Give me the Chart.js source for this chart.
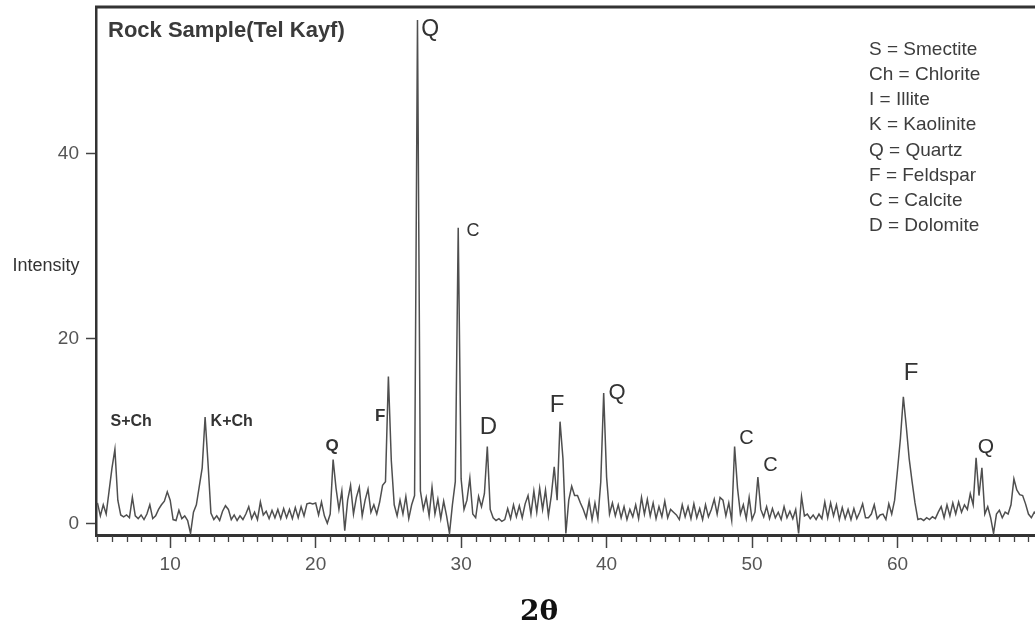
<!DOCTYPE html>
<html>
<head>
<meta charset="utf-8">
<script src="https://cdn.jsdelivr.net/npm/chart.js@4/dist/chart.umd.min.js"></script>
<style>
  html, body { margin: 0; padding: 0; background: #fff; }
  #wrap { width: 1035px; height: 627px; }
</style>
</head>
<body>
<div id="wrap"><canvas id="xrdChart" width="1035" height="627"></canvas></div>
<script>
// scan grid (degrees 2-theta)
const scanStart = 5.0;
const scanStep = 0.2;

// intensity, five samples per degree
const intensity = [
  2.2, 0.8, 2.0, 1.0, 3.5,   // 5
  6.0, 8.0, 2.5, 0.9, 0.7,   // 6
  0.9, 0.6, 2.8, 0.8, 0.5,   // 7
  0.9, 0.4, 1.0, 2.0, 0.5,   // 8
  0.8, 1.5, 2.0, 2.4, 3.4,   // 9
  2.5, 0.4, 0.3, 1.4, 0.5,   // 10
  0.8, 0.3, -1.1, 1.2, 2.0,  // 11
  4.0, 6.0, 11.5, 6.5, 1.1,  // 12
  0.4, 0.8, 0.3, 1.3, 1.9,   // 13
  1.5, 0.4, 0.9, 0.3, 0.8,   // 14
  0.4, 1.0, 1.8, 0.5, 1.2,   // 15
  0.4, 2.3, 0.9, 1.3, 0.5,   // 16
  1.4, 0.6, 1.5, 0.5, 1.6,   // 17
  0.6, 1.5, 0.5, 1.7, 0.6,   // 18
  1.8, 0.8, 2.1, 2.2, 2.1,   // 19
  2.2, 0.9, 2.3, 0.8, 0.0,   // 20
  1.0, 6.9, 3.8, 1.5, 3.5,   // 21
  -0.8, 2.5, 4.1, 1.0, 2.8,  // 22
  3.9, 0.8, 2.5, 3.7, 1.2,   // 23
  2.0, 1.0, 2.3, 4.1, 4.5,   // 24
  15.9, 6.8, 2.0, 0.8, 2.5,  // 25
  1.0, 2.9, 0.5, 2.0, 3.0,   // 26
  54.5, 3.5, 1.5, 2.8, 0.8,  // 27
  3.9, 1.0, 2.6, 0.5, 2.4,   // 28
  0.8, -1.1, 2.0, 4.5, 32.0, // 29
  4.8, 1.5, 2.5, 4.9, 1.0,   // 30
  0.6, 2.9, 1.8, 3.2, 8.3,   // 31
  1.5, 0.6, 0.3, 0.5, 0.2,   // 32
  0.4, 1.6, 0.5, 2.0, 0.7,   // 33
  1.9, 0.6, 2.1, 3.0, 1.0,   // 34
  3.5, 1.2, 3.8, 1.5, 3.6,   // 35
  0.8, 3.0, 6.1, 2.5, 11.0,  // 36
  7.0, -1.1, 2.5, 4.0, 3.0,  // 37
  3.0, 2.2, 1.5, 0.6, 2.4,   // 38
  0.4, 2.2, 0.5, 4.5, 14.1,  // 39
  5.0, 1.0, 2.2, 0.8, 2.0,   // 40
  0.6, 1.8, 0.4, 1.5, 0.7,   // 41
  2.0, 0.5, 2.8, 1.0, 2.6,   // 42
  0.8, 2.2, 0.5, 1.8, 0.7,   // 43
  2.4, 0.6, 1.5, 1.2, 0.9,   // 44
  0.4, 2.0, 0.7, 1.8, 0.5,   // 45
  2.1, 0.6, 1.6, 0.4, 2.0,   // 46
  0.7, 1.5, 2.6, 1.0, 2.8,   // 47
  2.5, 0.8, 2.2, 0.3, 8.3,   // 48
  3.8, 1.0, 2.0, 0.5, 2.8,   // 49
  0.4, 1.2, 5.0, 1.5, 0.7,   // 50
  1.8, 0.5, 1.6, 0.6, 1.2,   // 51
  0.4, 1.8, 0.6, 1.3, 0.5,   // 52
  1.5, -1.1, 2.9, 0.8, 1.0,  // 53
  0.5, 0.9, 0.4, 1.0, 0.5,   // 54
  2.3, 0.6, 2.2, 0.8, 2.0,   // 55
  0.4, 1.7, 0.5, 1.5, 0.4,   // 56
  1.6, 0.5, 1.2, 2.1, 0.6,   // 57
  0.6, 1.0, 2.0, 0.5, 0.9,   // 58
  1.0, 0.4, 2.1, 1.0, 2.5,   // 59
  5.8, 9.2, 13.7, 10.5, 7.0, // 60
  4.5, 2.2, 0.4, 0.5, 0.3,   // 61
  0.6, 0.4, 0.7, 0.5, 1.2,   // 62
  1.8, 0.6, 2.0, 0.8, 2.2,   // 63
  1.0, 2.3, 1.2, 2.0, 1.5,   // 64
  3.2, 2.0, 7.1, 3.0, 6.0,   // 65
  1.0, 1.8, 0.6, -1.1, 1.0,  // 66
  1.4, 0.6, 1.2, 1.0, 2.0,   // 67
  4.8, 3.6, 3.1, 3.0, 2.1,   // 68
  1.0, 0.6, 1.2, 0.8, 1.0    // 69
];

const xTickValues = [10, 20, 30, 40, 50, 60];
const yTickValues = [0, 20, 40];

const mineralCode = ["S", "Ch", "I", "K", "Q", "F", "C", "D"];
const mineralName = ["Smectite", "Chlorite", "Illite", "Kaolinite", "Quartz", "Feldspar", "Calcite", "Dolomite"];

const peakLabel = ["S+Ch", "K+Ch", "Q", "F", "Q", "C", "D", "F", "Q", "C", "C", "F", "Q"];
const peakTheta = [7.32, 14.23, 21.13, 24.43, 27.87, 30.82, 31.88, 36.60, 40.72, 49.62, 51.27, 60.93, 66.08];
const peakHeight = [11.0, 11.0, 8.3, 11.55, 53.45, 31.6, 10.4, 12.8, 14.1, 9.2, 6.3, 16.2, 8.2];

const chartTitle = "Rock Sample(Tel Kayf)";
const yTitle = "Intensity";
const xTitle = "2θ";

// styling for the peak labels
const peakLabelSize = [16, 16, 17, 17, 23, 18, 24, 24, 22, 20, 20, 24, 21];
const peakLabelBold = [true, true, true, true, false, false, false, false, false, false, false, false, false];

const points = intensity.map((v, i) => ({ x: scanStart + i * scanStep, y: v }));

const decorPlugin = {
  id: "decor",
  beforeDraw(chart) {
    const ctx = chart.ctx;
    ctx.save();
    ctx.fillStyle = "#ffffff";
    ctx.fillRect(0, 0, chart.width, chart.height);
    ctx.restore();
  },
  afterDraw(chart) {
    const ctx = chart.ctx;
    const a = chart.chartArea;
    const x = chart.scales.x;
    const y = chart.scales.y;
    ctx.save();

    // top frame line
    ctx.strokeStyle = "#333";
    ctx.lineWidth = 3;
    ctx.beginPath();
    ctx.moveTo(a.left - 1, a.top);
    ctx.lineTo(chart.width, a.top);
    ctx.stroke();

    // minor ticks every degree
    ctx.lineWidth = 1.3;
    ctx.strokeStyle = "#444";
    for (let v = Math.ceil(x.min); v <= x.max; v++) {
      if (v % 10 === 0) continue;
      const px = Math.round(x.getPixelForValue(v)) + 0.5;
      ctx.beginPath();
      ctx.moveTo(px, a.bottom + 1);
      ctx.lineTo(px, a.bottom + 7);
      ctx.stroke();
    }

    // title
    ctx.fillStyle = "#3a3a3a";
    ctx.font = "bold 22px 'Liberation Sans', Arial, sans-serif";
    ctx.textAlign = "left";
    ctx.textBaseline = "alphabetic";
    ctx.fillText(chartTitle, 108, 37);

    // mineral key
    ctx.font = "19px 'Liberation Sans', Arial, sans-serif";
    ctx.fillStyle = "#3d3d3d";
    ctx.textBaseline = "middle";
    mineralCode.forEach((code, i) => {
      ctx.fillText(code + " = " + mineralName[i], 869, 49.5 + i * 25.2);
    });

    // peak labels
    ctx.textAlign = "center";
    ctx.fillStyle = "#333";
    peakLabel.forEach((label, i) => {
      ctx.font = (peakLabelBold[i] ? "bold " : "") + peakLabelSize[i] + "px 'Liberation Sans', Arial, sans-serif";
      ctx.fillText(label, x.getPixelForValue(peakTheta[i]), y.getPixelForValue(peakHeight[i]));
    });

    // axis titles
    ctx.font = "18px 'Liberation Sans', Arial, sans-serif";
    ctx.fillText(yTitle, 46, 266);
    ctx.font = "bold 28px 'DejaVu Serif', serif";
    ctx.fillStyle = "#111";
    ctx.fillText(xTitle, 539, 613);

    ctx.restore();
  }
};

const ctx = document.getElementById("xrdChart").getContext("2d");

new Chart(ctx, {
  type: "line",
  data: {
    datasets: [{
      data: points,
      borderColor: "#4f4f4f",
      borderWidth: 1.5,
      pointRadius: 0,
      tension: 0,
      fill: false
    }]
  },
  options: {
    responsive: false,
    animation: false,
    devicePixelRatio: 1,
    layout: { padding: { top: 7, left: 0, right: 0, bottom: 0 } },
    plugins: {
      legend: { display: false },
      tooltip: { enabled: false },
      title: { display: false }
    },
    scales: {
      x: {
        type: "linear",
        min: 4.9,
        max: 69.45,
        afterFit: (s) => { s.height = 92; s.paddingLeft = 0; s.paddingRight = 0; },
        afterBuildTicks: (s) => { s.ticks = xTickValues.map(v => ({ value: v })); },
        grid: { drawOnChartArea: false, tickLength: 13, tickColor: "#444", tickWidth: 1.5 },
        border: { color: "#333", width: 3 },
        ticks: { color: "#555", font: { family: "'Liberation Sans', Arial, sans-serif", size: 19 }, padding: 5, maxRotation: 0 }
      },
      y: {
        type: "linear",
        min: -1.27,
        max: 55.9,
        afterFit: (s) => { s.width = 96; s.paddingTop = 0; s.paddingBottom = 0; },
        afterBuildTicks: (s) => { s.ticks = yTickValues.map(v => ({ value: v })); },
        grid: { drawOnChartArea: false, tickLength: 10, tickColor: "#444", tickWidth: 1.5 },
        border: { color: "#333", width: 2.5 },
        ticks: { color: "#555", font: { family: "'Liberation Sans', Arial, sans-serif", size: 19 }, padding: 7 }
      }
    }
  },
  plugins: [decorPlugin]
});
</script>
</body>
</html>
